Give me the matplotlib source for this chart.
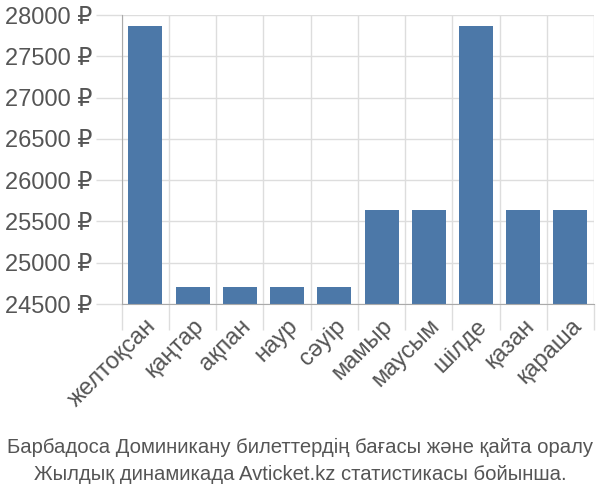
import matplotlib
import numpy as np

matplotlib.use("Agg")
import matplotlib.pyplot as plt  # noqa: E402

plt.rcParams["font.family"] = ["Liberation Sans", "DejaVu Sans"]

# datos
meses = ["желтоқсан", "қаңтар", "ақпан", "наур", "сәуір",
         "мамыр", "маусым", "шілде", "қазан", "қараша"]
precios = [27870, 24710, 24710, 24710, 24710,
           25640, 25640, 27870, 25640, 25640]
ticks_y = [24500, 25000, 25500, 26000, 26500, 27000, 27500, 28000]
pie = ["Барбадоса Доминикану билеттердің бағасы және қайта оралу",
       "Жылдық динамикада Avticket.kz статистикасы бойынша."]

gris = "#555555"
fig = plt.figure(figsize=(6, 5), dpi=100)
ax = fig.add_axes([0.203, 0.392, 0.787, 0.578])

x = np.arange(len(meses))
ax.bar(x, np.array(precios) - 24500, bottom=24500, width=0.72,
       color="#4c78a8", zorder=2)

ax.set_xlim(-0.5, len(meses) - 0.5)
ax.set_ylim(24500, 28000)
ax.set_yticks(ticks_y)
ax.set_yticklabels([f"{v} ₽" for v in ticks_y])
ax.set_xticks(x)
ax.set_xticklabels(meses, rotation=45, ha="right", rotation_mode="anchor")

# líneas verticales entre categorías
ax.set_xticks(np.arange(len(meses) + 1) - 0.5, minor=True)
ax.grid(True, which="minor", axis="x", color="#dddddd", lw=1, zorder=0)
ax.grid(True, which="major", axis="y", color="#dddddd", lw=1, zorder=0)
ax.tick_params(axis="x", which="major", length=0, pad=8, labelsize=17, labelcolor=gris)
ax.tick_params(axis="x", which="minor", length=19, color="#dddddd", width=1)
ax.tick_params(axis="y", length=19, color="#dddddd", width=1, pad=2,
               labelsize=17, labelcolor=gris)

for lado in ["top", "right"]:
    ax.spines[lado].set_visible(False)
ax.spines["left"].set_color("#aaaaaa")
ax.spines["bottom"].set_color("#aaaaaa")

fig.text(0.5, 0.106, pie[0], ha="center", va="center", fontsize=14.6, color=gris)
fig.text(0.5, 0.05, pie[1], ha="center", va="center", fontsize=14.6, color=gris)

fig.savefig("out.png", dpi=100)
plt.close(fig)
